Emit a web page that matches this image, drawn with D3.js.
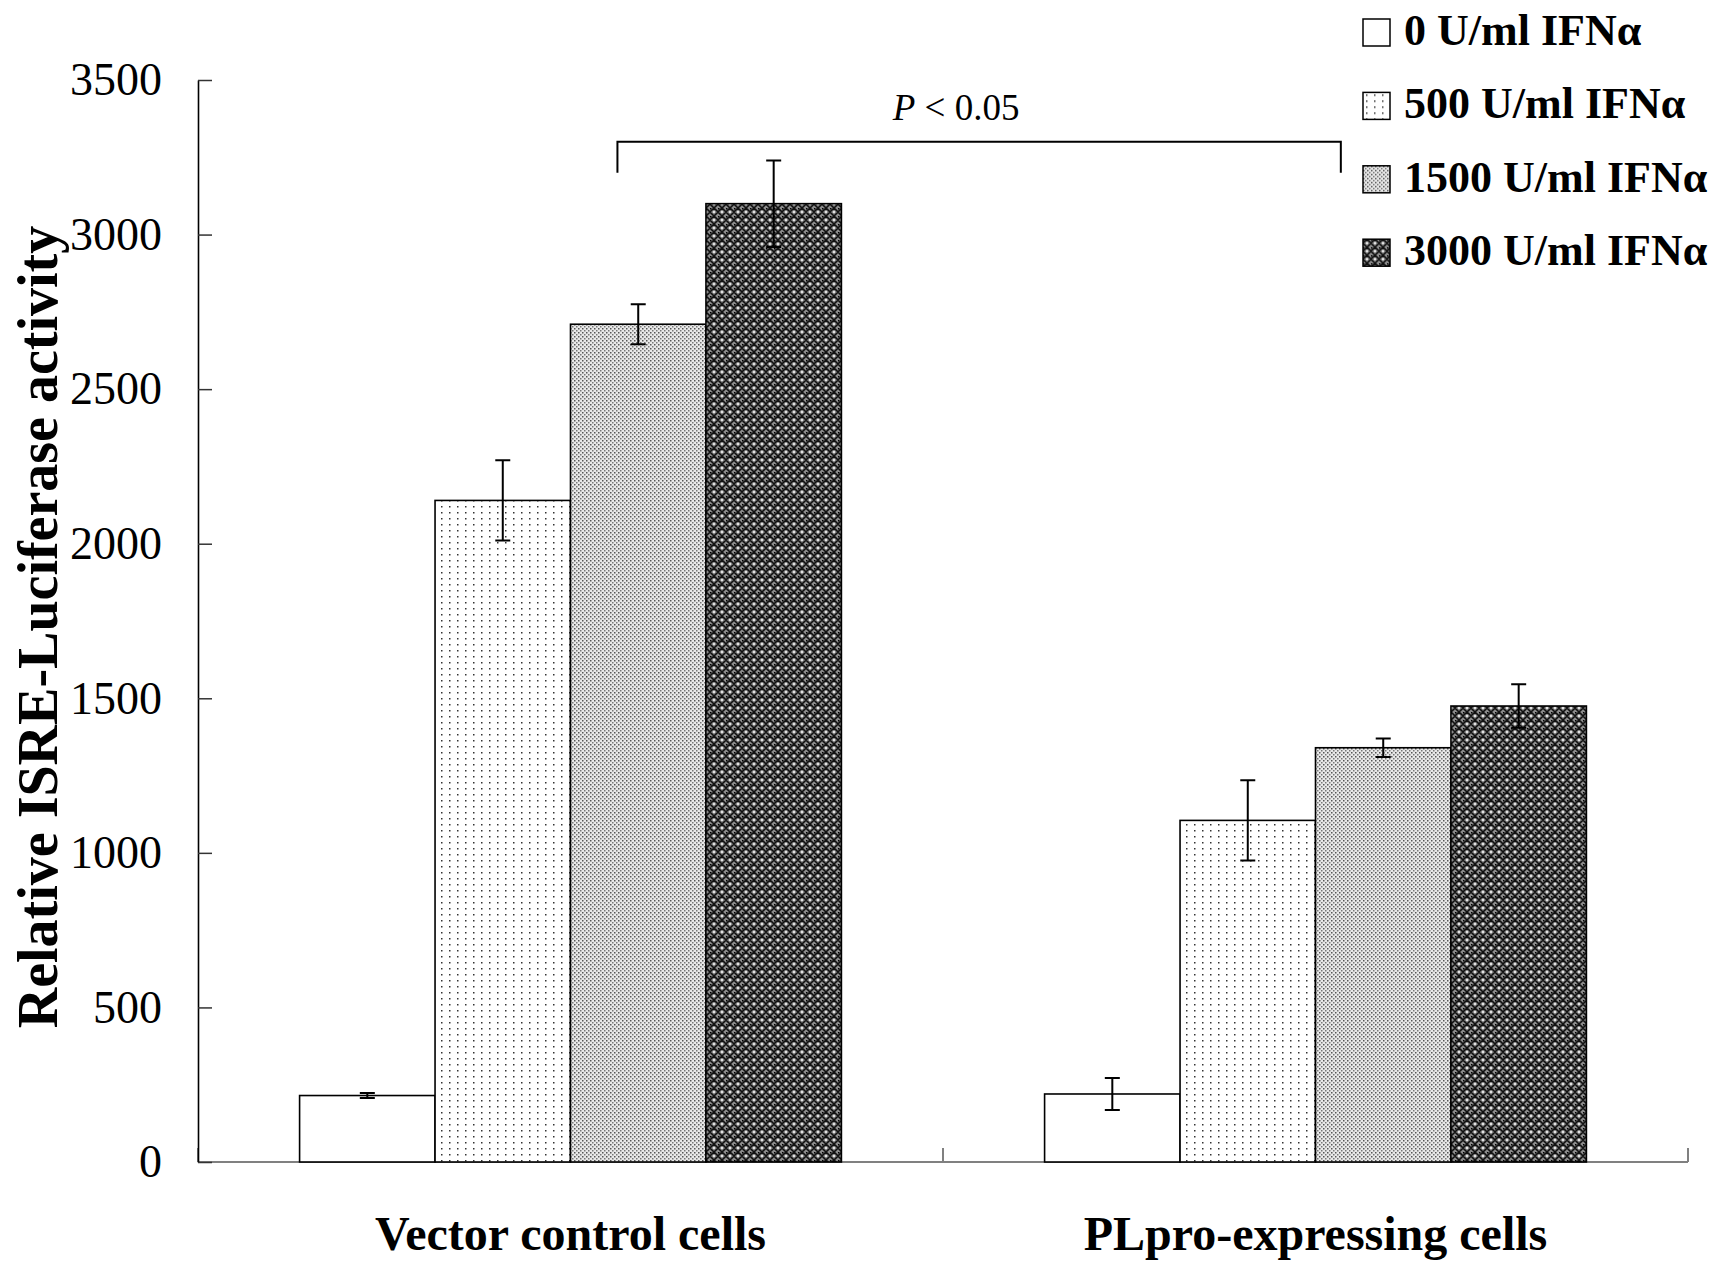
<!DOCTYPE html>
<html lang="en">
<head>
  <meta charset="UTF-8">
  <title>ISRE-Luciferase activity</title>
  <script src="https://cdnjs.cloudflare.com/ajax/libs/d3/7.8.5/d3.min.js"></script>
  <style>
    body { margin: 0; background: #fff; }
    svg { display: block; font-family: "Liberation Serif", "Times New Roman", serif; }
    .bar { stroke: #000; stroke-width: 1.6px; }
    .err { stroke: #000; stroke-width: 2px; fill: none; }
    .tick-label { font-size: 46px; fill: #000; }
    .cat-label { font-size: 48px; font-weight: bold; text-anchor: middle; }
    .legend-label { font-size: 44px; font-weight: bold; }
  </style>
</head>
<body>
  <div id="chart"></div>
  <script>
    const groups = ["Vector control cells", "PLpro-expressing cells"];
    const doses = ["0 U/ml IFNα", "500 U/ml IFNα", "1500 U/ml IFNα", "3000 U/ml IFNα"];
    const vectorMeans = [215, 2140, 2710, 3100];
    const vectorErrors = [8, 130, 65, 140];
    const plproMeans = [220, 1105, 1340, 1475];
    const plproErrors = [52, 130, 30, 70];
    const yTicks = [0, 500, 1000, 1500, 2000, 2500, 3000, 3500];
    const sigLabel = "< 0.05";
    const sigLevel = 3300, sigFoot = 3200;

    const width = 1726, height = 1263;
    const plotLeft = 198, plotRight = 1688, plotTop = 80, plotBottom = 1162;

    const svg = d3.select("#chart").append("svg")
      .attr("width", width)
      .attr("height", height);

    // fill patterns, one per dose
    const defs = svg.append("defs");
    const pWhite = defs.append("pattern").attr("id", "p0")
      .attr("patternUnits", "userSpaceOnUse").attr("width", 8).attr("height", 8);
    pWhite.append("rect").attr("width", 8).attr("height", 8).attr("fill", "#fff");

    const p500 = defs.append("pattern").attr("id", "p1")
      .attr("patternUnits", "userSpaceOnUse").attr("width", 8).attr("height", 6);
    p500.append("rect").attr("width", 8).attr("height", 6).attr("fill", "#fff");
    p500.append("rect").attr("x", 3).attr("y", 2).attr("width", 1.5).attr("height", 1.5).attr("fill", "#333");

    const p1500 = defs.append("pattern").attr("id", "p2")
      .attr("patternUnits", "userSpaceOnUse").attr("width", 4).attr("height", 4);
    p1500.append("rect").attr("width", 4).attr("height", 4).attr("fill", "#e8e8e8");
    p1500.append("rect").attr("x", 0).attr("y", 0).attr("width", 1.5).attr("height", 1.5).attr("fill", "#555");
    p1500.append("rect").attr("x", 2).attr("y", 2).attr("width", 1.5).attr("height", 1.5).attr("fill", "#777");

    const p3000 = defs.append("pattern").attr("id", "p3")
      .attr("patternUnits", "userSpaceOnUse").attr("width", 8).attr("height", 8);
    p3000.append("rect").attr("width", 8).attr("height", 8).attr("fill", "#8a8a8a");
    p3000.append("path").attr("d", "M0,4 L4,0 L8,4 L4,8 Z")
      .attr("fill", "none").attr("stroke", "#111").attr("stroke-width", 1.6);
    p3000.append("circle").attr("cx", 4).attr("cy", 4).attr("r", 1).attr("fill", "#fff");
    p3000.append("rect").attr("x", 0).attr("y", 0).attr("width", 1.5).attr("height", 1.5).attr("fill", "#000");
    const fills = ["url(#p0)", "url(#p1)", "url(#p2)", "url(#p3)"];

    const y = d3.scaleLinear().domain([0, 3500]).range([plotBottom, plotTop]);
    const x0 = d3.scaleBand().domain(groups).range([plotLeft, plotRight]).padding(0);
    const x1 = d3.scaleBand().domain(doses).range([0, x0.bandwidth()])
      .paddingInner(0).paddingOuter(0.75);

    const table = groups.map((g, i) => ({
      group: g,
      values: doses.map((d, j) => ({
        dose: d,
        mean: i === 0 ? vectorMeans[j] : plproMeans[j],
        err: i === 0 ? vectorErrors[j] : plproErrors[j],
        fill: fills[j]
      }))
    }));

    // x axis (ticks between categories)
    svg.append("line")
      .attr("x1", plotLeft).attr("x2", plotRight)
      .attr("y1", y(0)).attr("y2", y(0))
      .attr("stroke", "#808080").attr("stroke-width", 2);
    const catEdges = [x0.range()[0]].concat(groups.map(g => x0(g) + x0.bandwidth()));
    svg.selectAll(".xtick").data(catEdges).join("line")
      .attr("class", "xtick")
      .attr("x1", d => d).attr("x2", d => d)
      .attr("y1", y(0)).attr("y2", y(0) - 14)
      .attr("stroke", "#808080").attr("stroke-width", 2);

    // y axis, ticks pointing inward
    const yAxis = svg.append("g")
      .attr("transform", `translate(${plotLeft},0)`)
      .call(d3.axisLeft(y).tickValues(yTicks).tickSize(-14).tickSizeOuter(0).tickPadding(36).tickFormat(d3.format("d")));
    yAxis.attr("font-family", null).attr("font-size", null);
    yAxis.select(".domain").attr("stroke", "#000").attr("stroke-width", 1.6);
    yAxis.selectAll(".tick line").attr("stroke", "#333").attr("stroke-width", 1.5);
    yAxis.selectAll(".tick text").attr("class", "tick-label");

    // bars
    const grp = svg.selectAll(".grp").data(table).join("g")
      .attr("class", "grp")
      .attr("transform", d => `translate(${x0(d.group)},0)`);

    grp.selectAll(".bar").data(d => d.values).join("rect")
      .attr("class", "bar")
      .attr("x", d => x1(d.dose))
      .attr("y", d => y(d.mean))
      .attr("width", x1.bandwidth())
      .attr("height", d => y(0) - y(d.mean))
      .attr("fill", d => d.fill);

    // error bars
    const capW = 15;
    grp.selectAll(".err").data(d => d.values).join("path")
      .attr("class", "err")
      .attr("d", d => {
        const cx = x1(d.dose) + x1.bandwidth() / 2;
        const hi = y(d.mean + d.err), lo = y(d.mean - d.err);
        return `M${cx},${hi}V${lo}M${cx - capW / 2},${hi}H${cx + capW / 2}M${cx - capW / 2},${lo}H${cx + capW / 2}`;
      });

    // category labels
    svg.selectAll(".cat-label").data(groups).join("text")
      .attr("class", "cat-label")
      .attr("x", d => x0(d) + x0.bandwidth() / 2)
      .attr("y", 1250)
      .text(d => d);

    // y axis title
    svg.append("text")
      .attr("transform", "translate(57,627) rotate(-90)")
      .attr("text-anchor", "middle")
      .attr("font-size", 56)
      .attr("font-weight", "bold")
      .text("Relative ISRE-Luciferase activity");

    // significance bracket
    const bx1 = x0(groups[0]) + 0.563 * x0.bandwidth();
    const bx2 = x0(groups[1]) + 0.534 * x0.bandwidth();
    svg.append("path")
      .attr("d", `M${bx1},${y(sigFoot)}V${y(sigLevel)}H${bx2}V${y(sigFoot)}`)
      .attr("fill", "none").attr("stroke", "#000").attr("stroke-width", 2);
    const sig = svg.append("text")
      .attr("x", (bx1 + bx2) / 2 - 23)
      .attr("y", 120)
      .attr("text-anchor", "middle")
      .attr("font-size", 37);
    sig.append("tspan").attr("font-style", "italic").text("P");
    sig.append("tspan").text(" " + sigLabel);

    // legend
    const legend = svg.selectAll(".leg").data(doses).join("g")
      .attr("class", "leg")
      .attr("transform", (d, i) => `translate(1363,${19 + i * 73.4})`);
    legend.append("rect")
      .attr("width", 27).attr("height", 27)
      .attr("fill", (d, i) => fills[i])
      .attr("stroke", "#000").attr("stroke-width", 1.5);
    legend.append("text")
      .attr("class", "legend-label")
      .attr("x", 41).attr("y", 26)
      .text(d => d);
  </script>
</body>
</html>
